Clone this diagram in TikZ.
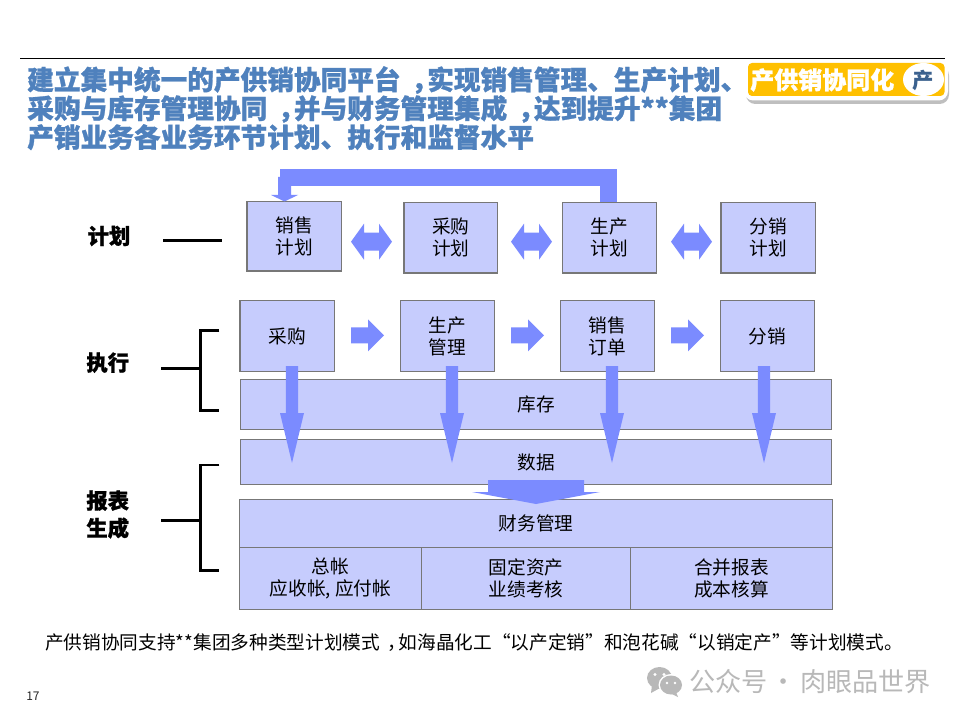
\documentclass[tikz,border=0pt]{standalone}
\usepackage{fontspec}
\setmainfont{Noto Sans CJK SC}
\newfontfamily\heavyfont[BoldFeatures={FakeBold=1}]{Noto Sans CJK SC}
\usetikzlibrary{calc}
\definecolor{boxfill}{HTML}{C6CCFD}
\definecolor{boxline}{HTML}{777777}
\definecolor{arrowblue}{HTML}{7B8BFF}
\definecolor{titleblue}{HTML}{4F81BD}
\definecolor{badge}{HTML}{FFC000}
\definecolor{wmgrey}{HTML}{B8B8B8}
\tikzset{
  x=0.75pt,y=-0.75pt,
  boxnode/.style={draw=boxline,line width=0.9pt,fill=boxfill,inner sep=0pt,align=center,font=\fontsize{14}{16.5}\selectfont,text=black},
  label/.style={font=\heavyfont\fontsize{16}{20.6}\bfseries\selectfont,align=center,text=black},
  rule/.style={draw=black,line width=2pt},
  titletext/.style={font=\heavyfont\fontsize{20}{21.6}\bfseries\selectfont,text=titleblue,anchor=north west,align=left,inner sep=0pt},
}
\newcommand{\zcm}{\kern.4em，\kern-.4em}
\newcommand{\mybox}[6]{\node[boxnode,minimum width=#4*0.75pt-#2*0.75pt,minimum height=#5*0.75pt-#3*0.75pt] (#1) at ({(#2+#4)/2},{(#3+#5)/2}) {#6};}
% from, to, shaft half width, head half width, head length
\newcommand{\downblock}[5]{\fill[arrowblue] ($(#1)+(-#3,0)$) -- ($(#1)+(#3,0)$) -- ($(#2)+(#3,-#5)$) -- ($(#2)+(#4,-#5)$) -- (#2) -- ($(#2)+(-#4,-#5)$) -- ($(#2)+(-#3,-#5)$) -- cycle;}
\newcommand{\rightblock}[5]{\fill[arrowblue] ($(#1)+(0,-#3)$) -- ($(#1)+(0,#3)$) -- ($(#2)+(-#5,#3)$) -- ($(#2)+(-#5,#4)$) -- (#2) -- ($(#2)+(-#5,-#4)$) -- ($(#2)+(-#5,-#3)$) -- cycle;}
\newcommand{\dblblock}[5]{\fill[arrowblue] (#1) -- ($(#1)+(#5,-#4)$) -- ($(#1)+(#5,-#3)$) -- ($(#2)+(-#5,-#3)$) -- ($(#2)+(-#5,-#4)$) -- (#2) -- ($(#2)+(-#5,#4)$) -- ($(#2)+(-#5,#3)$) -- ($(#1)+(#5,#3)$) -- ($(#1)+(#5,#4)$) -- cycle;}
\begin{document}
\begin{tikzpicture}
\useasboundingbox (0,0) rectangle (960,720);
\fill[white] (0,0) rectangle (960,720);
% top rule and title
\coordinate (ruleL) at (20,58); \coordinate (ruleR) at (945,58);
\draw[black,line width=0.7pt] (ruleL) -- (ruleR);
\node[titletext] (title) at (27,66) {建立集中统一的产供销协同平台\zcm 实现销售管理、生产计划、\\采购与库存管理协同\zcm 并与财务管理集成\zcm 达到提升**集团\\产销业务各业务环节计划、执行和监督水平};
% badge
\fill[black!25,rounded corners=7pt] (746,66) rectangle (949,104);
\fill[white,rounded corners=7pt] (744,60) rectangle (948,100.5);
\fill[badge,rounded corners=3pt] (748,63) rectangle (944.5,96);
\fill[white] (923.5,79.5) ellipse (20.5 and 16.5);
\node[font=\heavyfont\fontsize{18}{18}\bfseries\selectfont,text=white,anchor=west,inner sep=0pt] (badgetxt) at (750,80) {产供销协同化};
\node[font=\fontsize{16}{16}\bfseries\selectfont,text=titleblue!75!black,inner sep=0pt] (badgeicon) at (923,80) {产};
% plan row
\mybox{pA}{247}{201.5}{341.5}{271}{销售\\计划}
\mybox{pB}{404}{202.5}{497.5}{273}{采购\\计划}
\mybox{pC}{562.5}{202.5}{656.5}{273}{生产\\计划}
\mybox{pD}{721}{202.5}{815.5}{273}{分销\\计划}
% execution row
\mybox{eA}{240}{300.5}{334.5}{371.5}{采购}
\mybox{eB}{400.5}{300.5}{494.5}{371.5}{生产\\管理}
\mybox{eC}{560.5}{300.5}{654.5}{371.5}{销售\\订单}
\mybox{eD}{720.5}{300.5}{814.5}{371.5}{分销}
% wide bars
\mybox{kc}{240.5}{379.5}{831.5}{429.5}{库存}
\mybox{sj}{240.5}{439.5}{831.5}{484.5}{数据}
\mybox{cw}{239.5}{499.5}{832.5}{547.5}{财务管理}
\mybox{r1}{239.5}{547.5}{421.5}{609.5}{总帐\\应收帐, 应付帐}
\mybox{r2}{421.5}{547.5}{630.5}{609.5}{固定资产\\业绩考核}
\mybox{r3}{630.5}{547.5}{832.5}{609.5}{合并报表\\成本核算}
% feedback arrow
\coordinate (fbA) at (608.5,202);
\coordinate (fbB) at (608.5,177.5);
\coordinate (fbC) at (280,177.5);
\coordinate (fbD) at (284.5,177);
\coordinate (fbE) at (284.5,201.5);
\draw[arrowblue,line width=12.75pt,line join=miter] (fbA) -- (fbB) -- (fbC);
\downblock{fbD}{fbE}{6.5}{13.5}{6.5}
% double arrows
\foreach \l/\r/\n in {351/392/1,511/552/2,671/712/3}{
  \coordinate (dl\n) at (\l,241.7); \coordinate (dr\n) at (\r,241.7);
  \dblblock{dl\n}{dr\n}{9}{18}{13}
}
% right arrows
\foreach \l/\r/\n in {351/384/1,511/544/2,671/704/3}{
  \coordinate (rl\n) at (\l,335.3); \coordinate (rr\n) at (\r,335.3);
  \rightblock{rl\n}{rr\n}{8}{16}{16}
}
% down arrows
\foreach \x/\n in {292/1,452/2,612/3,764/4}{
  \coordinate (ds\n) at (\x,366); \coordinate (de\n) at (\x,463);
  \downblock{ds\n}{de\n}{6.2}{12}{50}
}
% merge arrow
\coordinate (mS) at (536,480); \coordinate (mE) at (536,504);
\downblock{mS}{mE}{48}{64}{12}
% labels and brackets
\node[label] (lp) at (109,236) {计划};
\node[label] (le) at (107.7,362.7) {执行};
\node[label] (lr) at (107.7,514.5) {报表\\生成};
\coordinate (t1) at (163,240.3); \coordinate (t2) at (222,240.3);
\draw[rule] (t1) -- (t2);
\coordinate (e1) at (161,368.3); \coordinate (e2) at (200.7,368.3);
\coordinate (e3) at (219.3,330.3); \coordinate (e4) at (219.3,410.3);
\draw[rule] (e1) -- (e2);
\draw[rule,line join=miter] (e3) -- (e3 -| e2) -- (e4 -| e2) -- (e4);
\coordinate (f1) at (161,520.3); \coordinate (f2) at (200.7,520.3);
\coordinate (f3) at (219.3,465); \coordinate (f4) at (219.3,570.7);
\draw[rule] (f1) -- (f2);
\draw[rule,line join=miter] (f3) -- (f3 -| f2) -- (f4 -| f2) -- (f4);
% footnote
\node[font=\fontsize{14}{16}\selectfont,anchor=west,inner sep=0pt,text=black] (note) at (45,642.5) {产供销协同支持**集团多种类型计划模式\zcm 如海晶化工“以产定销”和泡花碱“以销定产”等计划模式。};
\node[font=\fontsize{9}{10}\selectfont,inner sep=0pt,text=black!85] (pg) at (33,696) {17};
% watermark
\fill[wmgrey] (659.5,678) ellipse (12.5 and 11);
\fill[wmgrey] (652,685) -- (651,693) -- (660,688) -- cycle;
\fill[white] (671,685) ellipse (12.5 and 11);
\fill[wmgrey] (671,685) ellipse (11 and 9.5);
\fill[wmgrey] (676,692) -- (678,697) -- (670,693) -- cycle;
\fill[white] (655,674.5) circle (1.7) (664,674.5) circle (1.7) (667,683) circle (1.4) (675,683) circle (1.4);
\node[font=\fontsize{19.6}{20}\selectfont,anchor=west,inner sep=0pt,text=black!28] (wm) at (689,681.5) {公众号\kern-2pt{} · \kern-2pt{}肉眼品世界};
\end{tikzpicture}
\end{document}
